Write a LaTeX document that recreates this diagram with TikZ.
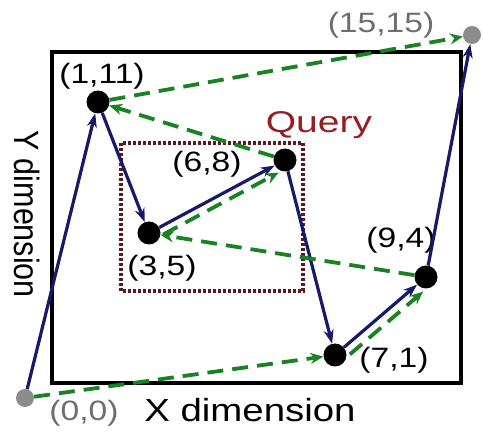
\documentclass[tikz,border=0pt]{standalone}
\usepackage{fontspec}
\setmainfont{Liberation Sans}
\usetikzlibrary{arrows.meta}
\definecolor{navy}{RGB}{25,25,105}
\definecolor{dgreen}{RGB}{25,130,35}
\definecolor{qred}{RGB}{150,30,35}
\definecolor{qdot}{RGB}{95,25,30}
\definecolor{ptgray}{RGB}{140,140,140}
\definecolor{lblgray}{RGB}{110,110,110}
\newcommand{\hs}[2]{\scalebox{#1}[1]{#2}}
\begin{document}
\begin{tikzpicture}[x=1pt,y=-1pt,
  blk/.style={circle,fill=black,inner sep=0,minimum size=23pt},
  gry/.style={circle,fill=ptgray,inner sep=0,minimum size=18pt},
  seqx/.style={navy,line width=3.2pt,-{Stealth[length=14pt,width=10pt]}},
  seqy/.style={dgreen,line width=3.8pt,dash pattern=on 16pt off 9pt,-{Stealth[length=13pt,width=11pt]}},
  lbl/.style={anchor=base,font=\fontsize{28}{32}\selectfont,inner sep=0},
  axl/.style={anchor=base,font=\fontsize{32}{36}\selectfont,inner sep=0},
]
\useasboundingbox (0,0) rectangle (483,433);
\fill[white] (0,0) rectangle (483,433);
% frame and query box
\draw[line width=3.5pt] (52,52) rectangle (461,383);
\draw[qdot,line width=3.2pt,dash pattern=on 2.6pt off 2.4pt] (121,143) rectangle (303,291);
% points
\node[gry] (p00) at (25,398) {};
\node[gry] (p1515) at (472,35) {};
\node[blk] (p111) at (98,102) {};
\node[blk] (p68) at (285,160) {};
\node[blk] (p35) at (149,233) {};
\node[blk] (p94) at (426,277) {};
\node[blk] (p71) at (335,355) {};
% labels
\node[lbl,text=lblgray] (l1515) at (381,33) {\hs{1.2}{(15,15)}};
\node[lbl] (l111) at (102,84) {\hs{1.2}{(1,11)}};
\node[lbl] (l68) at (207,172) {\hs{1.2}{(6,8)}};
\node[lbl] (l35) at (162,276) {\hs{1.2}{(3,5)}};
\node[lbl] (l94) at (401,248) {\hs{1.2}{(9,4)}};
\node[lbl] (l71) at (394,368) {\hs{1.2}{(7,1)}};
\node[lbl,text=lblgray] (l00) at (84,421) {\hs{1.2}{(0,0)}};
\node[anchor=base,font=\fontsize{30}{34}\selectfont,inner sep=0,text=qred] (lq) at (319,133) {\hs{1.3}{Query}};
\node[axl] (lx) at (250,422) {\hs{1.2}{X dimension}};
\node[anchor=base,font=\fontsize{30.5}{34}\selectfont,inner sep=0,rotate=-90] (ly) at (14,214) {\scalebox{1}[1.15]{Y dimension}};
% x-order (blue)
\draw[seqx] (p00) -- (p111);
\draw[seqx] (p111) -- (p35);
\draw[seqx] (p35) -- (p68);
\draw[seqx] (p68) -- (p71);
\draw[seqx] (p71) -- (p94);
\draw[seqx] (p94) -- (p1515);
% y-order (green dashed)
\draw[seqy] (p00) -- (p71);
\draw[seqy,transform canvas={xshift=6pt,yshift=-7pt}] (p71) -- (p94);
\draw[seqy] (p94) -- (p35);
\draw[seqy,transform canvas={xshift=4pt,yshift=-7pt}] (p35) -- (p68);
\draw[seqy] (p68) -- (p111);
\draw[seqy] (p111) -- (p1515);
\end{tikzpicture}
\end{document}
